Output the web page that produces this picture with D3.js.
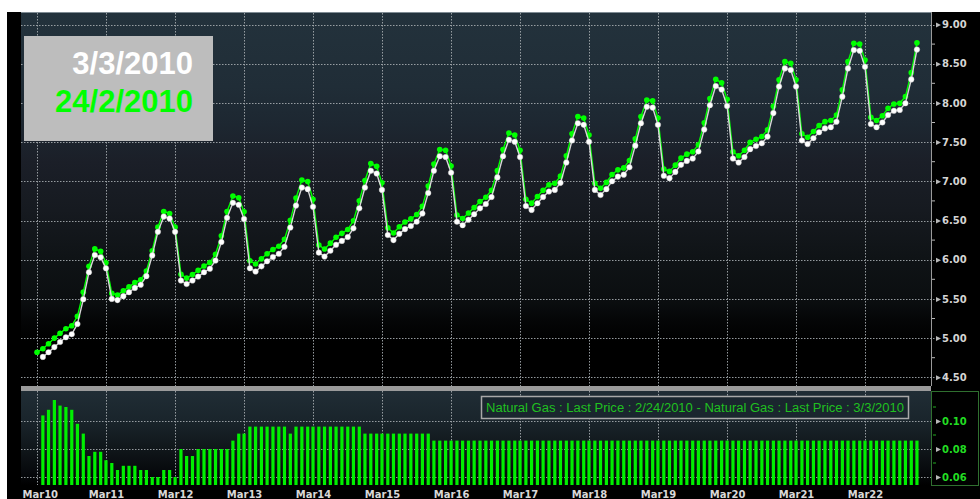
<!DOCTYPE html>
<html>
<head>
<meta charset="utf-8">
<script src="https://cdn.jsdelivr.net/npm/d3@7"></script>
<style>
  body { margin: 0; background: #fff; overflow: hidden; }
  svg { display: block; }
  .ax text { font-family: "DejaVu Sans", sans-serif; }
</style>
</head>
<body>
<div id="chart"></div>
<script>
// Months on the curve: Mar10 .. Dec22
const months = d3.timeMonth.range(new Date(2010, 2, 1), new Date(2023, 0, 1));
const marchTicks = months.filter(d => d.getMonth() === 2);
const priceTicks = [4.5, 5, 5.5, 6, 6.5, 7, 7.5, 8, 8.5, 9];
const spreadTicks = [0.06, 0.08, 0.10];

// Natural Gas last price, 2/24/2010 curve (Mar10 .. Dec22)
const price0224 = [
  4.820, 4.864, 4.928, 5.000, 5.061, 5.120, 5.158, 5.278, 5.586, 5.915, 6.138, 6.108,
  5.962, 5.570, 5.550, 5.603, 5.653, 5.708, 5.745, 5.855, 6.115, 6.415, 6.615, 6.590,
  6.415, 5.815, 5.765, 5.810, 5.865, 5.920, 5.965, 6.070, 6.305, 6.615, 6.811, 6.791,
  6.611, 5.986, 5.946, 6.011, 6.076, 6.131, 6.171, 6.261, 6.501, 6.786, 7.016, 6.996,
  6.771, 6.186, 6.136, 6.211, 6.286, 6.336, 6.386, 6.496, 6.751, 7.011, 7.226, 7.191,
  6.981, 6.406, 6.341, 6.421, 6.481, 6.521, 6.576, 6.681, 6.941, 7.221, 7.406, 7.396,
  7.196, 6.571, 6.526, 6.596, 6.666, 6.741, 6.796, 6.886, 7.136, 7.406, 7.616, 7.591,
  7.396, 6.771, 6.721, 6.806, 6.886, 6.956, 6.976, 7.066, 7.326, 7.606, 7.826, 7.806,
  7.591, 6.976, 6.911, 6.986, 7.086, 7.146, 7.171, 7.266, 7.541, 7.826, 8.036, 8.026,
  7.806, 7.156, 7.126, 7.206, 7.296, 7.346, 7.376, 7.466, 7.746, 8.056, 8.301, 8.256,
  8.046, 7.376, 7.326, 7.396, 7.496, 7.536, 7.571, 7.656, 7.956, 8.296, 8.526, 8.506,
  8.296, 7.606, 7.561, 7.636, 7.711, 7.761, 7.776, 7.846, 8.166, 8.526, 8.761, 8.751,
  8.546, 7.816, 7.776, 7.836, 7.931, 7.986, 7.996, 8.081, 8.386, 8.766
];

// Natural Gas last price, 3/3/2010 curve (Apr10 .. Dec22)
const price0303 = [
  4.760, 4.820, 4.885, 4.950, 5.010, 5.050, 5.180, 5.495, 5.840, 6.060, 6.030, 5.890,
  5.500, 5.485, 5.535, 5.585, 5.640, 5.680, 5.790, 6.055, 6.355, 6.550, 6.525, 6.355,
  5.735, 5.690, 5.735, 5.785, 5.840, 5.885, 5.990, 6.225, 6.535, 6.725, 6.700, 6.520,
  5.890, 5.850, 5.915, 5.980, 6.035, 6.075, 6.165, 6.410, 6.690, 6.920, 6.900, 6.675,
  6.090, 6.040, 6.115, 6.190, 6.240, 6.290, 6.400, 6.655, 6.920, 7.135, 7.100, 6.890,
  6.315, 6.250, 6.330, 6.390, 6.430, 6.485, 6.590, 6.850, 7.135, 7.320, 7.310, 7.110,
  6.485, 6.440, 6.510, 6.580, 6.655, 6.710, 6.800, 7.050, 7.320, 7.530, 7.505, 7.310,
  6.685, 6.635, 6.720, 6.800, 6.870, 6.890, 6.980, 7.240, 7.520, 7.740, 7.720, 7.505,
  6.890, 6.825, 6.900, 7.000, 7.060, 7.085, 7.180, 7.455, 7.740, 7.950, 7.940, 7.720,
  7.070, 7.040, 7.120, 7.210, 7.260, 7.290, 7.380, 7.660, 7.970, 8.215, 8.170, 7.960,
  7.290, 7.240, 7.310, 7.410, 7.450, 7.485, 7.570, 7.870, 8.210, 8.440, 8.420, 8.210,
  7.520, 7.475, 7.550, 7.625, 7.675, 7.690, 7.760, 8.080, 8.440, 8.675, 8.665, 8.460,
  7.730, 7.690, 7.750, 7.845, 7.900, 7.910, 7.995, 8.300, 8.680
];

// Spread 2/24/2010 - 3/3/2010 (Apr10 .. Dec22)
const spread = [
  0.104, 0.108, 0.115, 0.111, 0.110, 0.108, 0.098, 0.091, 0.075, 0.078, 0.078, 0.072,
  0.070, 0.065, 0.068, 0.068, 0.068, 0.065, 0.065, 0.060, 0.060, 0.065, 0.065, 0.060,
  0.080, 0.075, 0.075, 0.080, 0.080, 0.080, 0.080, 0.080, 0.080, 0.086, 0.091, 0.091,
  0.096, 0.096, 0.096, 0.096, 0.096, 0.096, 0.096, 0.091, 0.096, 0.096, 0.096, 0.096,
  0.096, 0.096, 0.096, 0.096, 0.096, 0.096, 0.096, 0.096, 0.091, 0.091, 0.091, 0.091,
  0.091, 0.091, 0.091, 0.091, 0.091, 0.091, 0.091, 0.091, 0.086, 0.086, 0.086, 0.086,
  0.086, 0.086, 0.086, 0.086, 0.086, 0.086, 0.086, 0.086, 0.086, 0.086, 0.086, 0.086,
  0.086, 0.086, 0.086, 0.086, 0.086, 0.086, 0.086, 0.086, 0.086, 0.086, 0.086, 0.086,
  0.086, 0.086, 0.086, 0.086, 0.086, 0.086, 0.086, 0.086, 0.086, 0.086, 0.086, 0.086,
  0.086, 0.086, 0.086, 0.086, 0.086, 0.086, 0.086, 0.086, 0.086, 0.086, 0.086, 0.086,
  0.086, 0.086, 0.086, 0.086, 0.086, 0.086, 0.086, 0.086, 0.086, 0.086, 0.086, 0.086,
  0.086, 0.086, 0.086, 0.086, 0.086, 0.086, 0.086, 0.086, 0.086, 0.086, 0.086, 0.086,
  0.086, 0.086, 0.086, 0.086, 0.086, 0.086, 0.086, 0.086, 0.086
];

const width = 980, height = 499;
const plot = {left: 21, right: 931, top: 12, bottom: 386};
const lower = {top: 391, bottom: 485};
const sans = "'Liberation Sans', Arial, sans-serif";

const svg = d3.select("#chart").append("svg")
  .attr("width", width).attr("height", height);

// Scales
const x = d3.scaleTime()
  .domain([new Date(2010, 2, 1), new Date(2022, 2, 1)])
  .range([37, 865]);
const y = d3.scaleLinear().domain([4.5, 9]).range([377.3, 24.5]);
const yb = d3.scaleLinear().domain([0.06, 0.10]).range([477, 421]);

// Gradients
const defs = svg.append("defs");
function gradient(id, stops) {
  const g = defs.append("linearGradient").attr("id", id)
    .attr("x1", 0).attr("y1", 0).attr("x2", 0).attr("y2", 1);
  stops.forEach(s => g.append("stop").attr("offset", s[0]).attr("stop-color", s[1]));
}
gradient("mainBg", [[0, "#23323c"], [0.2, "#202d37"], [0.3, "#1d2731"], [0.4, "#1b1f28"],
  [0.53, "#161a20"], [0.66, "#0f1316"], [0.77, "#0b0e10"], [0.83, "#040506"], [0.88, "#000"], [1, "#000"]]);
gradient("lowBg", [[0, "#202d35"], [0.3, "#1a252c"], [0.62, "#10161a"], [0.9, "#05070a"], [1, "#000"]]);

// Frame
svg.append("rect").attr("x", 7).attr("y", plot.top).attr("width", width - 7).attr("height", height - plot.top)
  .attr("fill", "#000");
svg.append("rect").attr("x", plot.left).attr("y", plot.top)
  .attr("width", plot.right - plot.left).attr("height", plot.bottom - plot.top)
  .attr("fill", "url(#mainBg)");
svg.append("rect").attr("x", plot.left).attr("y", lower.top)
  .attr("width", plot.right - plot.left).attr("height", lower.bottom - lower.top)
  .attr("fill", "url(#lowBg)");
svg.append("line").attr("x1", plot.left).attr("x2", plot.right)
  .attr("y1", plot.top + 0.5).attr("y2", plot.top + 0.5).attr("stroke", "#7f8b93");
svg.append("rect").attr("x", plot.left).attr("y", plot.bottom)
  .attr("width", plot.right - plot.left).attr("height", lower.top - plot.bottom)
  .attr("fill", "#9a9a9a");
svg.append("line").attr("x1", plot.right + 0.5).attr("x2", plot.right + 0.5)
  .attr("y1", plot.top).attr("y2", plot.bottom).attr("stroke", "#9a9a9a");

// Grid lines
const grid = svg.append("g").attr("stroke", "#a4aaae").attr("stroke-dasharray", "1.5,1.5")
  .attr("stroke-width", 1).attr("opacity", 0.9);
grid.selectAll(".hy").data(priceTicks).join("line")
  .attr("x1", plot.left).attr("x2", 937)
  .attr("y1", d => Math.round(y(d)) + 0.5).attr("y2", d => Math.round(y(d)) + 0.5);
grid.selectAll(".hb").data(spreadTicks).join("line")
  .attr("x1", plot.left).attr("x2", 937)
  .attr("y1", d => Math.round(yb(d)) + 0.5).attr("y2", d => Math.round(yb(d)) + 0.5);
grid.selectAll(".vx").data(marchTicks).join("line")
  .attr("x1", d => Math.round(x(d)) + 0.5).attr("x2", d => Math.round(x(d)) + 0.5)
  .attr("y1", plot.top + 1).attr("y2", plot.bottom);
grid.selectAll(".vb").data(marchTicks).join("line")
  .attr("x1", d => Math.round(x(d)) + 0.5).attr("x2", d => Math.round(x(d)) + 0.5)
  .attr("y1", lower.top).attr("y2", lower.bottom);

// Lower right axis box
svg.append("rect").attr("x", plot.right + 0.5).attr("y", lower.top + 0.5)
  .attr("width", width - plot.right - 2).attr("height", lower.bottom - lower.top)
  .attr("fill", "#000").attr("stroke", "#2f6f2f");

// Right price axis
const yAxis = svg.append("g").attr("class", "ax").attr("transform", `translate(${plot.right},0)`)
  .call(d3.axisRight(y).tickValues(priceTicks).tickFormat(d3.format(".2f")).tickSize(0).tickPadding(11));
yAxis.select(".domain").remove();
yAxis.selectAll("text").attr("fill", "#d4d4d4").attr("font-size", 10).attr("font-weight", "bold");
yAxis.selectAll(".tick").append("path").attr("d", "M5,-2.5L10,0L5,2.5Z").attr("fill", "#b8b8b8");
svg.append("g").selectAll("line").data(d3.pairs(priceTicks).map(p => (p[0] + p[1]) / 2)).join("line")
  .attr("x1", plot.right + 1).attr("x2", plot.right + 4)
  .attr("y1", d => y(d)).attr("y2", d => y(d)).attr("stroke", "#b8b8b8");

// Right spread axis
const ybAxis = svg.append("g").attr("class", "ax").attr("transform", `translate(${plot.right},0)`)
  .call(d3.axisRight(yb).tickValues(spreadTicks).tickFormat(d3.format(".2f")).tickSize(0).tickPadding(11));
ybAxis.select(".domain").remove();
ybAxis.selectAll("text").attr("fill", "#22dd22").attr("font-size", 10).attr("font-weight", "bold");
ybAxis.selectAll(".tick").append("path").attr("d", "M5,-2.5L10,0L5,2.5Z").attr("fill", "#b8b8b8");
svg.append("g").selectAll("line").data([0.07, 0.09, 0.11]).join("line")
  .attr("x1", plot.right + 2).attr("x2", plot.right + 5)
  .attr("y1", d => yb(d)).attr("y2", d => yb(d)).attr("stroke", "#22aa22");

// Bottom axis
const xAxis = svg.append("g").attr("class", "ax").attr("transform", `translate(0,${lower.bottom})`)
  .call(d3.axisBottom(x).tickValues(marchTicks).tickFormat(d3.timeFormat("%b%y")).tickSize(0).tickPadding(6));
xAxis.select(".domain").remove();
xAxis.selectAll("text").attr("fill", "#d8d8d8").attr("font-size", 10).attr("font-weight", "bold");
xAxis.select(".tick text").attr("text-anchor", "start").attr("x", plot.left + 1 - x(marchTicks[0]));

// Spread bars
svg.append("g").selectAll("rect").data(spread).join("rect")
  .attr("x", (d, i) => x(months[i + 1]) - 1.6)
  .attr("width", 3.2)
  .attr("y", d => yb(d))
  .attr("height", d => lower.bottom - yb(d))
  .attr("fill", "#00f000");

// Curves
const line24 = d3.line().x((d, i) => x(months[i])).y(d => y(d));
const line03 = d3.line().x((d, i) => x(months[i + 1])).y(d => y(d));

svg.append("path").datum(price0224).attr("d", line24)
  .attr("fill", "none").attr("stroke", "#00ff00").attr("stroke-width", 1.4);
svg.append("g").selectAll("circle").data(price0224).join("circle")
  .attr("cx", (d, i) => x(months[i])).attr("cy", d => y(d)).attr("r", 2.8)
  .attr("fill", "#00ff00");

svg.append("path").datum(price0303).attr("d", line03)
  .attr("fill", "none").attr("stroke", "#d8d8d8").attr("stroke-width", 1.4);
svg.append("g").selectAll("circle").data(price0303).join("circle")
  .attr("cx", (d, i) => x(months[i + 1])).attr("cy", d => y(d)).attr("r", 2.8)
  .attr("fill", "#ffffff").attr("stroke", "#bdbdbd").attr("stroke-width", 0.4);

// Legend in lower panel
svg.append("rect").attr("x", 481.5).attr("y", 396.5).attr("width", 427).attr("height", 22)
  .attr("fill", "#1a262e").attr("stroke", "#a8a8a8").attr("stroke-width", 1.5);
svg.append("text").attr("x", 486).attr("y", 412)
  .style("font-family", sans).attr("font-size", 12.5)
  .attr("fill", "#20c020").attr("textLength", 418).attr("lengthAdjust", "spacingAndGlyphs")
  .text("Natural Gas : Last Price : 2/24/2010 - Natural Gas : Last Price : 3/3/2010");

// Date box
svg.append("rect").attr("x", 24).attr("y", 36).attr("width", 189).attr("height", 105)
  .attr("fill", "#bdbdbd");
svg.append("text").attr("x", 193).attr("y", 74).attr("text-anchor", "end")
  .style("font-family", sans).attr("font-weight", "bold")
  .attr("font-size", 31).attr("fill", "#ffffff").text("3/3/2010");
svg.append("text").attr("x", 193).attr("y", 112).attr("text-anchor", "end")
  .style("font-family", sans).attr("font-weight", "bold")
  .attr("font-size", 31).attr("fill", "#00ff00").text("24/2/2010");
</script>
</body>
</html>
